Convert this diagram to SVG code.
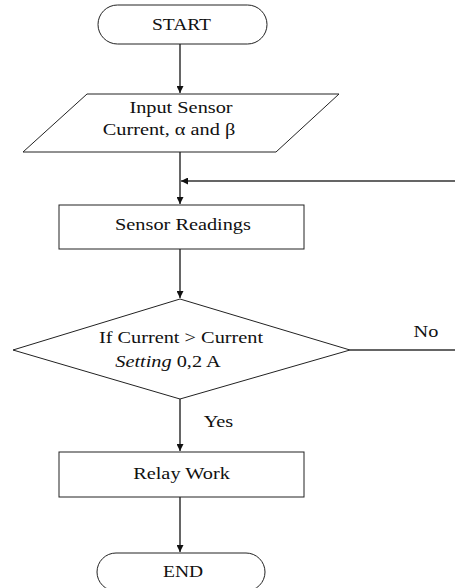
<svg xmlns="http://www.w3.org/2000/svg" width="455" height="588" viewBox="0 0 455 588">
<style>
.s{fill:#fff;stroke:#222;stroke-width:1}
.c{fill:none;stroke:#333;stroke-width:1.5}
.t{font-family:'Liberation Serif','DejaVu Serif','Times New Roman',serif;font-size:16px;fill:#111;text-anchor:middle}
</style>
<defs>
<marker id="ah" viewBox="0 0 10 10" refX="10" refY="5" markerWidth="7" markerHeight="7" markerUnits="userSpaceOnUse" orient="auto">
<path d="M0,0 L10,5 L0,10 Z" fill="#111"/>
</marker>
</defs>
<rect width="455" height="588" fill="#fff"/>
<g id="connectors">
<line class="c" x1="180" y1="44" x2="180" y2="93" marker-end="url(#ah)"/>
<line class="c" x1="180" y1="152" x2="180" y2="204" marker-end="url(#ah)"/>
<line class="c" x1="180" y1="249" x2="180" y2="298" marker-end="url(#ah)"/>
<line class="c" x1="180" y1="399" x2="180" y2="451" marker-end="url(#ah)"/>
<line class="c" x1="180" y1="497" x2="180" y2="552" marker-end="url(#ah)"/>
<path class="c" d="M350,350 H458 V181 H181" marker-end="url(#ah)"/>
<text class="t" font-family="Liberation Serif, serif" transform="translate(218.5,427) scale(1.27,1)">Yes</text>
<text class="t" font-family="Liberation Serif, serif" transform="translate(426,337) scale(1.27,1)">No</text>
</g>
<g id="start">
<rect class="s" x="98" y="5" width="169" height="39" rx="19.5"/>
<text class="t" font-family="Liberation Serif, serif" transform="translate(181.5,30) scale(1.22,1)">START</text>
</g>
<g id="input">
<polygon class="s" points="87,94 339,94 276,152 23,152"/>
<text class="t" font-family="Liberation Serif, serif" transform="translate(181,113) scale(1.27,1)">Input Sensor</text>
<text class="t" font-family="Liberation Serif, serif" transform="translate(169,135) scale(1.27,1)">Current, α and β</text>
</g>
<g id="sensor">
<rect class="s" x="59" y="205" width="245" height="44"/>
<text class="t" font-family="Liberation Serif, serif" transform="translate(183,230) scale(1.27,1)">Sensor Readings</text>
</g>
<g id="decision">
<polygon class="s" points="180,299 350,350 180,399 13,350"/>
<text class="t" font-family="Liberation Serif, serif" transform="translate(181,343) scale(1.27,1)">If Current &gt; Current</text>
<text class="t" font-family="Liberation Serif, serif" transform="translate(168,367) scale(1.27,1)"><tspan font-style="italic">Setting</tspan> 0,2 A</text>
</g>
<g id="relay">
<rect class="s" x="59" y="452" width="245" height="45"/>
<text class="t" font-family="Liberation Serif, serif" transform="translate(181.5,479) scale(1.27,1)">Relay Work</text>
</g>
<g id="end">
<rect class="s" x="97" y="553" width="168" height="38" rx="19"/>
<text class="t" font-family="Liberation Serif, serif" transform="translate(183,577) scale(1.22,1)">END</text>
</g>
</svg>
